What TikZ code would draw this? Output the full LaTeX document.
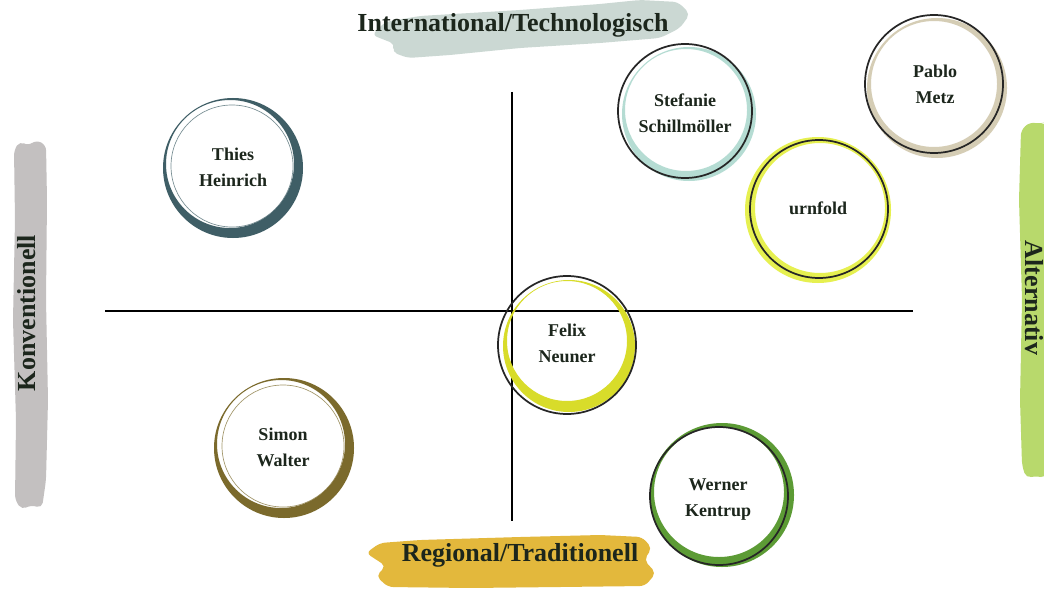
\documentclass[tikz,border=0pt]{standalone}
\usepackage{fontspec}
\setmainfont{Liberation Serif}
\definecolor{txt}{HTML}{1C261C}
\definecolor{cThies}{HTML}{3F5E66}
\definecolor{cStef}{HTML}{B5DCD3}
\definecolor{cPablo}{HTML}{D5CDB5}
\definecolor{cUrn}{HTML}{E6F050}
\definecolor{cFelix}{HTML}{D8DC2A}
\definecolor{cSimon}{HTML}{7B6A2C}
\definecolor{cWerner}{HTML}{5C9B35}
\definecolor{bTop}{HTML}{CBD8D3}
\definecolor{bBot}{HTML}{E3B83C}
\definecolor{bLeft}{HTML}{C3C0C0}
\definecolor{bRight}{HTML}{B8D96C}
\begin{document}
\begin{tikzpicture}[x=0.75pt,y=0.75pt,
  personname/.style={align=center,font=\bfseries\fontsize{13.5}{19.5}\selectfont,text=txt,inner sep=0pt},
  axislabel/.style={font=\bfseries\fontsize{19.5}{22}\selectfont,text=txt,inner sep=0pt},
  ringfill/.style={fill=#1,even odd rule},
  streak/.style={draw=#1,line width=0.5pt,opacity=0.7},
  blackring/.style={draw=black!85,line width=1.3pt},
  axisline/.style={draw=black,line width=1.5pt},
  brush/.style={fill=#1,rounded corners=4pt}]
\useasboundingbox[fill=white] (0,0) rectangle (1044,-588);

% brush strokes behind axis labels
\fill[brush=bTop] (372,-35) -- (385,-22) -- (420,-16) -- (520,-10) -- (600,-4) -- (640,0) -- (678,-2) -- (690,-14) -- (680,-28) -- (660,-38) -- (600,-43) -- (520,-48) -- (450,-55) -- (408,-58) -- (392,-52) -- (395,-44) -- cycle;
\fill[brush=bBot] (366,-553) -- (380,-543) -- (420,-540) -- (520,-537) -- (600,-535) -- (642,-537) -- (652,-548) -- (644,-560) -- (656,-573) -- (645,-586) -- (560,-587) -- (470,-588) -- (388,-587) -- (376,-576) -- (386,-566) -- cycle;
\fill[brush=bLeft] (14,-150) -- (20,-141) -- (28,-146) -- (36,-140) -- (46,-145) -- (47,-200) -- (46,-300) -- (48,-400) -- (46,-480) -- (42,-508) -- (30,-505) -- (22,-510) -- (15,-500) -- (16,-420) -- (13,-320) -- (15,-220) -- cycle;
\fill[brush=bRight] (1021,-130) -- (1030,-122) -- (1040,-124) -- (1046,-122) -- (1046,-478) -- (1036,-476) -- (1026,-478) -- (1022,-465) -- (1020,-400) -- (1022,-300) -- (1019,-200) -- cycle;

% axis labels
\node[axislabel] (top) at (513,-25) {International/Technologisch};
\node[axislabel] (bottom) at (520,-555) {Regional/Traditionell};
\node[axislabel,rotate=90] (left) at (27,-313) {Konventionell};
\node[axislabel,rotate=-90] (right) at (1034,-298) {Alternativ};

% axes
\coordinate (vtop) at (512,-92);
\coordinate (vbot) at (512,-521);
\coordinate (hleft) at (105,-311);
\coordinate (hright) at (913,-311);
\draw[axisline] (vtop) -- (vbot);
\draw[axisline] (hleft) -- (hright);

% Thies Heinrich
\fill[ringfill=cThies] (233,-168) circle[radius=70] (230,-164) circle[radius=64];
\draw[streak=cThies] (232,-166) circle[radius=61];
\node[personname] (thies) at (233,-167) {Thies\\Heinrich};

% Stefanie Schillmoeller
\fill[ringfill=cStef] (689,-114) circle[radius=67] (686,-110) circle[radius=61];
\draw[blackring] (685,-111) circle[radius=67];
\node[personname] (stef) at (685,-113) {Stefanie\\Schillmöller};

% Pablo Metz
\fill[ringfill=cPablo] (937,-88) circle[radius=70] (934,-84) circle[radius=63];
\draw[blackring] (934,-84) circle[radius=69];
\node[personname] (pablo) at (935,-84) {Pablo\\Metz};

% urnfold
\fill[ringfill=cUrn] (818,-210) circle[radius=73] (820,-208) circle[radius=65];
\draw[blackring] (819,-209) circle[radius=69];
\node[personname] (urn) at (818,-208) {urnfold};

% Felix Neuner
\fill[ringfill=cFelix] (569,-346) circle[radius=66] (567,-341) circle[radius=60];
\draw[blackring] (567,-345) circle[radius=69];
\node[personname] (felix) at (567,-343) {Felix\\Neuner};

% Simon Walter
\fill[ringfill=cSimon] (284,-448) circle[radius=70] (281,-444) circle[radius=64];
\draw[streak=cSimon] (283,-446) circle[radius=61];
\node[personname] (simon) at (283,-447) {Simon\\Walter};

% Werner Kentrup
\fill[ringfill=cWerner] (722,-495) circle[radius=72] (719,-492) circle[radius=65];
\draw[blackring] (719,-496) circle[radius=69];
\node[personname] (werner) at (718,-500) {Werner\\Kentrup};
\end{tikzpicture}
\end{document}
